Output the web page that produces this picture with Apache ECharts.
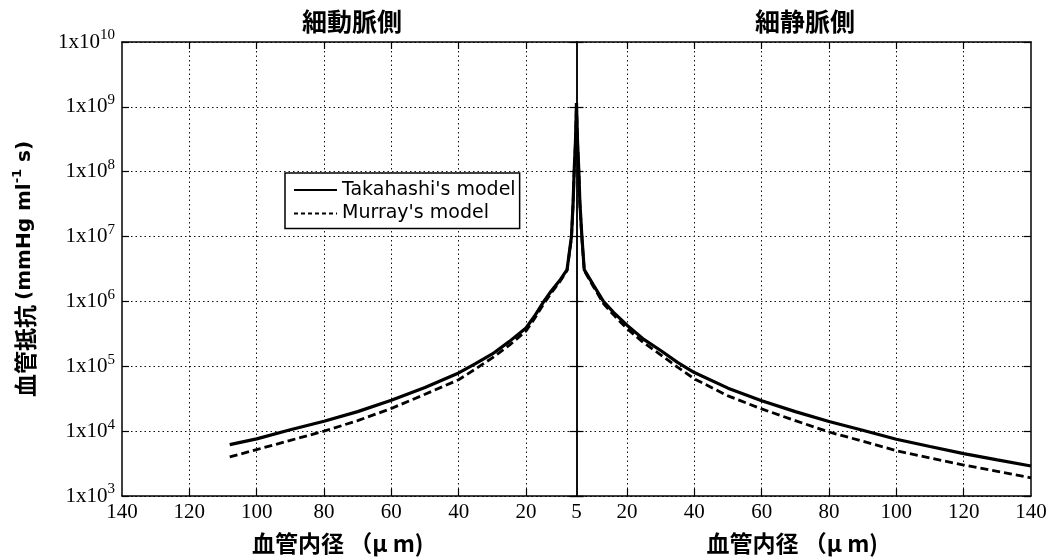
<!DOCTYPE html>
<html>
<head>
<meta charset="utf-8">
<script src="https://cdn.jsdelivr.net/npm/echarts@6/dist/echarts.min.js"></script>
<style>
  html, body { margin: 0; padding: 0; background: #fff; }
  #chart { width: 1051px; height: 560px; }
</style>
</head>
<body>
<div id="chart"></div>
<script>
// ---- data ----
const sideTitles = ['細動脈側', '細静脈側'];
const xAxisName = '血管内径 （μ m)';
const seriesNames = ["Takahashi's model", "Murray's model"];

// left half: arteriole side (diameter in µm, decreasing toward the centre)
const leftDiameters = [108, 100, 90, 80, 70, 60, 50, 40, 35, 30, 25, 20, 17.5, 14.7, 12.5, 10, 7.8, 6.5, 6.0, 5.7, 5.3, 5];
const leftTakahashi = [6.2e3, 7.6e3, 1.05e4, 1.42e4, 2.0e4, 3.0e4, 4.7e4, 7.9e4, 1.1e5, 1.55e5, 2.4e5, 3.9e5, 5.9e5, 1.0e6, 1.45e6, 2.1e6, 3.1e6, 1.0e7, 3.4e7, 1.0e8, 3.0e8, 1.15e9];
const leftMurray    = [4.0e3, 5.2e3, 7.2e3, 1.0e4, 1.45e4, 2.24e4, 3.7e4, 6.2e4, 9.1e4, 1.35e5, 2.1e5, 3.5e5, 5.4e5, 9.2e5, 1.35e6, 2.0e6, 3.0e6, 9.5e6, 3.2e7, 9.5e7, 2.8e8, 1.1e9];

// right half: venule side
const rightDiameters = [5, 5.3, 5.7, 6.0, 6.6, 7.3, 10, 13, 16, 20, 25, 30, 35, 40, 50, 60, 70, 80, 90, 100, 110, 120, 130, 140];
const rightTakahashi = [1.15e9, 3e8, 1e8, 3.4e7, 1e7, 3.1e6, 1.8e6, 1.0e6, 6.8e5, 4.3e5, 2.6e5, 1.75e5, 1.15e5, 8.0e4, 4.6e4, 2.95e4, 2.0e4, 1.41e4, 1.03e4, 7.5e3, 5.8e3, 4.5e3, 3.6e3, 2.9e3];
const rightMurray    = [1.1e9, 2.8e8, 9.5e7, 3.2e7, 9.5e6, 3.0e6, 1.7e6, 9.3e5, 6.2e5, 3.8e5, 2.3e5, 1.5e5, 9.7e4, 6.4e4, 3.5e4, 2.2e4, 1.45e4, 9.7e3, 7.0e3, 5.0e3, 3.85e3, 3.0e3, 2.4e3, 1.9e3];

// tick labels
const leftXTickLabels = [5, 20, 40, 60, 80, 100, 120, 140];
const rightXTickLabels = [20, 40, 60, 80, 100, 120, 140];
const xGridValues = [20, 40, 60, 80, 100, 120];
const yMin = 1e3, yMax = 1e10;

// ---- chart ----
const zip = (xs, ys) => xs.map((x, i) => [x, ys[i]]);
const chart = echarts.init(document.getElementById('chart'), null, { renderer: 'canvas' });

const black = '#000';
const dotted = { show: true, lineStyle: { color: '#111', width: 1, type: [1.5, 3] } };
const axisLine = { show: true, onZero: false, lineStyle: { color: black, width: 1.5 } };
const tickIn = { show: true, inside: true, length: 7, lineStyle: { color: black, width: 1.2 } };
const serif = 'Liberation Serif';
const cjk = 'Noto Sans CJK JP';

function xAxisDef(grid, pos, labels, withName) {
  const a = {
    gridIndex: grid, type: 'value', min: 5, max: 140, position: pos,
    inverse: grid === 0,
    axisLine: axisLine,
    axisTick: Object.assign({}, tickIn, { customValues: xGridValues }),
    splitLine: pos === 'bottom' ? Object.assign({}, dotted, { customValues: xGridValues }) : { show: false },
    axisLabel: labels ? { show: true, customValues: labels, margin: 6, color: black,
      fontFamily: serif, fontSize: 21 } : { show: false }
  };
  if (withName) {
    Object.assign(a, {
      name: xAxisName, nameLocation: 'middle', nameGap: 36,
      nameTextStyle: { fontFamily: cjk, fontWeight: 'bold', fontSize: 23, color: black,
        padding: [0, 23, 0, 0] }
    });
  }
  return a;
}

function yAxisDef(grid, pos, labels, split) {
  const a = {
    gridIndex: grid, type: 'log', logBase: 10, min: yMin, max: yMax, splitNumber: 7,
    position: pos,
    axisLine: axisLine,
    axisTick: tickIn,
    minorTick: { show: false },
    splitLine: split ? dotted : { show: false },
    axisLabel: { show: false }
  };
  if (labels) {
    a.axisLabel = {
      show: true, margin: 7, color: black,
      formatter: v => '{b|1x10}{s|' + Math.round(Math.log10(v)) + '}',
      rich: {
        b: { fontFamily: serif, fontSize: 21, lineHeight: 28, color: black },
        s: { fontFamily: serif, fontSize: 15, lineHeight: 15, verticalAlign: 'top', color: black }
      }
    };
    a.name = '{c|血管抵抗 }{b|(mmHg ml}{s|-1}{b| s)}';
    a.nameLocation = 'middle';
    a.nameGap = 83;
    a.nameTextStyle = {
      rich: {
        c: { fontFamily: cjk, fontWeight: 'bold', fontSize: 23, color: black, lineHeight: 28 },
        b: { fontFamily: 'DejaVu Sans', fontWeight: 'bold', fontSize: 20, color: black, lineHeight: 28 },
        s: { fontFamily: 'DejaVu Sans', fontWeight: 'bold', fontSize: 13, color: black, lineHeight: 13, verticalAlign: 'top' }
      }
    };
  }
  return a;
}

function lineSeries(name, xi, data, dashed) {
  return {
    name: name, type: 'line', xAxisIndex: xi, yAxisIndex: xi, data: data,
    showSymbol: false, symbol: 'none', smooth: false, clip: true,
    color: black,
    lineStyle: { color: black, width: dashed ? 2.8 : 3.2, type: dashed ? [8, 4] : 'solid' },
    z: dashed ? 3 : 4
  };
}

const option = {
  backgroundColor: '#fff',
  animation: false,
  title: [
    { text: sideTitles[0], left: 352, top: 9, textAlign: 'center', padding: 0,
      textStyle: { fontFamily: cjk, fontWeight: 'bold', fontSize: 25, color: black } },
    { text: sideTitles[1], left: 805, top: 9, textAlign: 'center', padding: 0,
      textStyle: { fontFamily: cjk, fontWeight: 'bold', fontSize: 25, color: black } }
  ],
  grid: [
    { left: 122, width: 454.5, top: 42, bottom: 61, show: false },
    { left: 576.5, right: 20, top: 42, bottom: 61, show: false }
  ],
  xAxis: [
    xAxisDef(0, 'bottom', leftXTickLabels, true),
    xAxisDef(0, 'top', null, false),
    xAxisDef(1, 'bottom', rightXTickLabels, true),
    xAxisDef(1, 'top', null, false)
  ],
  yAxis: [
    yAxisDef(0, 'left', true, true),
    yAxisDef(0, 'right', false, false),
    yAxisDef(1, 'left', false, true),
    yAxisDef(1, 'right', false, false)
  ],
  legend: {
    orient: 'vertical', left: 285, top: 173,
    backgroundColor: '#fff', borderColor: black, borderWidth: 1.5, borderRadius: 0,
    padding: [7, 4, 5, 8], itemGap: 3.5, itemWidth: 43, itemHeight: 14,
    selectedMode: false,
    itemStyle: { opacity: 0, borderWidth: 0 },
    textStyle: { fontFamily: 'DejaVu Sans', fontSize: 19, color: black, lineHeight: 20 },
    data: [
      { name: seriesNames[0], lineStyle: { width: 2, type: 'solid', color: black, opacity: 1 } },
      { name: seriesNames[1], lineStyle: { width: 2, type: [4, 3], color: black, opacity: 1 } }
    ]
  },
  series: [
    lineSeries(seriesNames[1], 0, zip(leftDiameters, leftMurray), true),
    lineSeries(seriesNames[0], 0, zip(leftDiameters, leftTakahashi), false),
    lineSeries(seriesNames[1], 2, zip(rightDiameters, rightMurray), true),
    lineSeries(seriesNames[0], 2, zip(rightDiameters, rightTakahashi), false)
  ]
};
// series on grid 1 must reference yAxis 2
option.series[2].yAxisIndex = 2;
option.series[3].yAxisIndex = 2;
chart.setOption(option);
</script>
</body>
</html>
